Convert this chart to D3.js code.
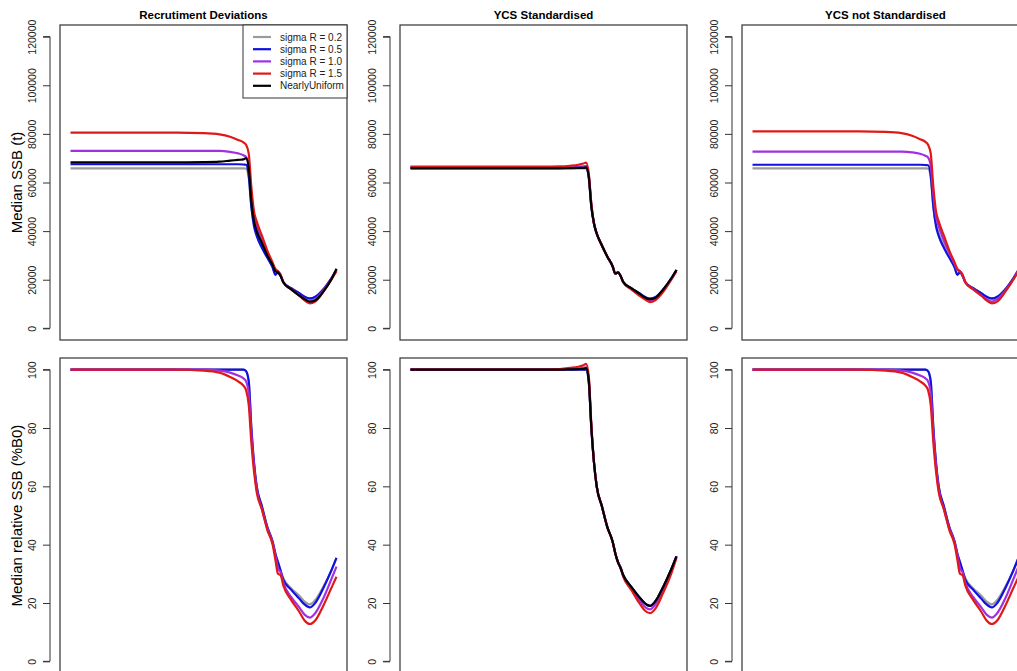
<!DOCTYPE html>
<html><head><meta charset="utf-8">
<script src="https://cdn.jsdelivr.net/npm/d3@7"></script>
<style>body{margin:0;background:#fff;}svg{display:block;font-family:Arial,"Liberation Sans",sans-serif;}</style>
</head><body>
<svg id="chart" width="1017" height="671"></svg>
<script>
// projection years (index only, x axis is off-canvas)
const years = [0,20,40,50,56,60,63,65,66,67,68,69,70,72,74,76,77,78,79,80,83,86,88,90,92,95,98,100];

const seriesNames = ["sigma R = 0.2","sigma R = 0.5","sigma R = 1.0","sigma R = 1.5","NearlyUniform"];
const seriesColors = ["#9a9a9a","#1010e0","#a030e0","#e01818","#000000"];
const panelTitles = ["Recrutiment Deviations","YCS Standardised","YCS not Standardised"];
const ssbTicks = [0,20000,40000,60000,80000,100000,120000];
const relTicks = [0,20,40,60,80,100];

// median SSB (thousand t)
const ssbRecDev = [
  [65.8,65.8,65.8,65.8,65.8,65.8,65.8,65.8,65.7,62,50,43,39,34,29.5,25.5,22.5,23,21.5,19,16.5,14.5,13,12,12.8,16,20.5,24],
  [67.5,67.5,67.5,67.5,67.5,67.5,67.5,67.4,67.3,63,50,42,38,33,29,25,22,23,21.5,19,16.5,14.5,13,12.3,13,16,20.5,24],
  [73,73,73,73,73,72.6,72,71.2,70.5,67,55,46,42,36,31,26.5,24,23.5,22,19,16,13.5,12,11,12,15.5,20,24],
  [80.5,80.5,80.5,80.3,79.8,78.8,77.5,76.5,75.5,72,58,48,44,38,32,27,24.5,23.5,22,19,16,13.5,11.5,10.3,11,15,20,23.5],
  [68.3,68.3,68.3,68.4,68.6,69,69.3,69.5,70,66,52,44,40,35,30,26,23.5,23,21.5,19,16,13.5,12,11,11.5,15,20,24.5]
];
const ssbYcsStd = [
  [65.8,65.8,65.8,65.8,65.8,65.8,65.8,65.8,65.8,62,50,43,39,34,29.5,25.5,22.5,23,21.5,19,16.5,14.5,13,12.2,12.8,16,20.5,24],
  [66,66,66,66,66,66,66,66,66,62.5,50,43,39,34,29.5,25.5,22.5,23,21.5,19,16.5,14.5,13,12.2,12.8,16,20.5,24],
  [66.3,66.3,66.3,66.3,66.3,66.4,66.5,66.6,66.8,63,51,43,39,34,29.5,25.5,22.5,23,21.5,19,16.3,14,12.5,11.5,12,15.5,20,24],
  [66.5,66.5,66.5,66.5,66.6,66.9,67.3,67.8,68.2,64,51,43,39,34,29.5,25.5,22.5,23,21.5,19,16,13.5,12,10.8,11.5,15,20,23.5],
  [65.8,65.8,65.8,65.8,65.8,65.9,66,66,66.2,62.5,50,43,39,34,29.5,25.5,22.5,23,21.5,19,16.5,14.3,12.8,12,12.5,16,20.5,24]
];
const ssbYcsNot = [
  [65.8,65.8,65.8,65.8,65.8,65.8,65.8,65.8,65.7,62,50,43,39,34,29.5,25.5,22.5,23,21.5,19,16.5,14.5,13,12,12.8,16,20.5,24],
  [67.3,67.3,67.3,67.3,67.3,67.3,67.3,67.2,67.1,63,50,42,38,33,29,25,22,23,21.5,19,16.5,14.5,13,12.3,13,16,20.5,24],
  [72.7,72.7,72.7,72.7,72.7,72.4,71.8,71,70.3,67,55,46,42,36,31,26.5,24,23.5,22,19,16,13.5,12,11,12,15.5,20,24],
  [81,81,81,80.8,80.3,79.2,77.8,76.7,75.5,72,58,48,44,38,32,27,24.5,23.5,22,19,16,13.5,11.5,10.3,11,15,20,23.5],
  null
];
// median relative SSB (%B0)
const relRecDev = [
  [100,100,100,100,100,100,100,100,99.5,96,80,68,60,53,46,41,37,34,31,28.5,25,22.5,20.5,19.5,21,25.5,31,35.5],
  [100,100,100,100,100,100,100,100,99.5,96,80,68,60,53,46,41,37,34,31,28,24.5,21.5,19.5,18.5,20,25,31,35.5],
  [100,100,100,100,99.7,99,98,97,96,92,78,67,59,52,45.5,40.5,36.5,32,30.5,27,22,18.5,16,15,16.5,21.5,28,32.5],
  [100,100,100,99.7,99,97.5,96,94.5,93,88,75,65,58,52,45,40,35,30,29.5,26,21,17,14,12.8,14,19,25,29],
  null
];
const relYcsStd = [
  [100,100,100,100,100,100,100,100,100,96,80,68,60,53,46,41,37,34,32,29.5,25.5,22,20,19,20.5,25.5,31.5,36],
  [100,100,100,100,100,100,100,100,100,96,80,68,60,53,46,41,37,34,32,29.5,25.5,22,20,19,20.5,25.5,31.5,36],
  [100,100,100,100,100,100.2,100.4,100.6,100.8,97,80,68,60,53,46,41,37,34,32,29,25,21,18.8,17.8,19.5,24.5,31,36],
  [100,100,100,100,100.2,100.6,101,101.5,102,98,81,68,60,53,46,41,37,34,32,29,24.5,20,17.5,16.5,18,23.5,30,35.5],
  [100,100,100,100,100,100.1,100.2,100.3,100.5,96.5,80,68,60,53,46,41,37,34,32,29.5,25.5,22,20,19,20.5,25.5,31.5,36]
];
const relYcsNot = relRecDev;

const panels = [
  {col:0,row:0,data:ssbRecDev,scale:1000,legend:true},
  {col:1,row:0,data:ssbYcsStd,scale:1000},
  {col:2,row:0,data:ssbYcsNot,scale:1000},
  {col:0,row:1,data:relRecDev,scale:1},
  {col:1,row:1,data:relYcsStd,scale:1},
  {col:2,row:1,data:relYcsNot,scale:1}
];

const svg = d3.select("#chart");
const colLeft = [60,400,742], boxW = 287;
const rowTop = [25,358], boxH = 315;

panels.forEach(p => {
	const left = colLeft[p.col], top = rowTop[p.row];
	const g = svg.append("g").attr("transform", `translate(${left},${top})`);
	const x = d3.scaleLinear().domain([-3.95,103.95]).range([0,boxW]);
	const y = p.row === 0
		? d3.scaleLinear().domain([-4800,124800]).range([boxH,0])
		: d3.scaleLinear().domain([-4,104]).range([boxH,0]);
	const ticks = p.row === 0 ? ssbTicks : relTicks;

	//y axis, R style: rotated labels
	const ax = g.append("g").attr("transform", "translate(-10,0)")
		.call(d3.axisLeft(y).tickValues(ticks).tickSize(7).tickPadding(4).tickFormat(d3.format("d")));
	ax.select(".domain").attr("stroke","#333").attr("d", `M-7,${y(ticks[0])}H0V${y(ticks[ticks.length-1])}H-7`);
	ax.selectAll(".tick line").attr("stroke","#333");
	ax.selectAll(".tick text")
		.attr("font-size",10.5).attr("fill","#222")
		.attr("transform", d => `rotate(-90,-12,${0})`)
		.attr("x",-12).attr("dy","0").attr("text-anchor","middle")
		.attr("y",-3);
	ax.selectAll(".tick text").attr("transform","rotate(-90)").attr("x",0).attr("y",-14).attr("text-anchor","middle");

	const line = d3.line().x((d,i) => x(years[i])).y(d => y(d*p.scale)).curve(d3.curveMonotoneX);
	const gl = g.append("g");
	p.data.forEach((vals,k) => {
		if (!vals) return;
		gl.append("path").attr("d", line(vals)).attr("fill","none")
			.attr("stroke", seriesColors[k]).attr("stroke-width",2.2)
			.attr("stroke-linejoin","round");
	});

	g.append("rect").attr("width",boxW).attr("height",boxH)
		.attr("fill","none").attr("stroke","#333").attr("stroke-width",1.2);

	if (p.row === 0) {
		g.append("text").attr("x",boxW/2).attr("y",-6).attr("text-anchor","middle")
			.attr("font-size",11.5).attr("font-weight","bold").text(panelTitles[p.col]);
	}

	if (p.legend) {
		const lg = g.append("g").attr("transform", `translate(${boxW-104},0)`);
		lg.append("rect").attr("width",104).attr("height",73)
			.attr("fill","#fff").attr("stroke","#333").attr("stroke-width",1);
		seriesNames.forEach((n,k) => {
			const yy = 12 + k*12.2;
			lg.append("line").attr("x1",10).attr("x2",28).attr("y1",yy).attr("y2",yy)
				.attr("stroke",seriesColors[k]).attr("stroke-width",2.2);
			lg.append("text").attr("x",37).attr("y",yy+3.5).attr("font-size",10).attr("fill","#222").text(n);
		});
	}
});

svg.append("text").attr("transform",`translate(22,${rowTop[0]+boxH/2}) rotate(-90)`)
	.attr("text-anchor","middle").attr("font-size",15).text("Median SSB (t)");
svg.append("text").attr("transform",`translate(22,${rowTop[1]+boxH/2}) rotate(-90)`)
	.attr("text-anchor","middle").attr("font-size",15).text("Median relative SSB (%B0)");
</script>
</body></html>
